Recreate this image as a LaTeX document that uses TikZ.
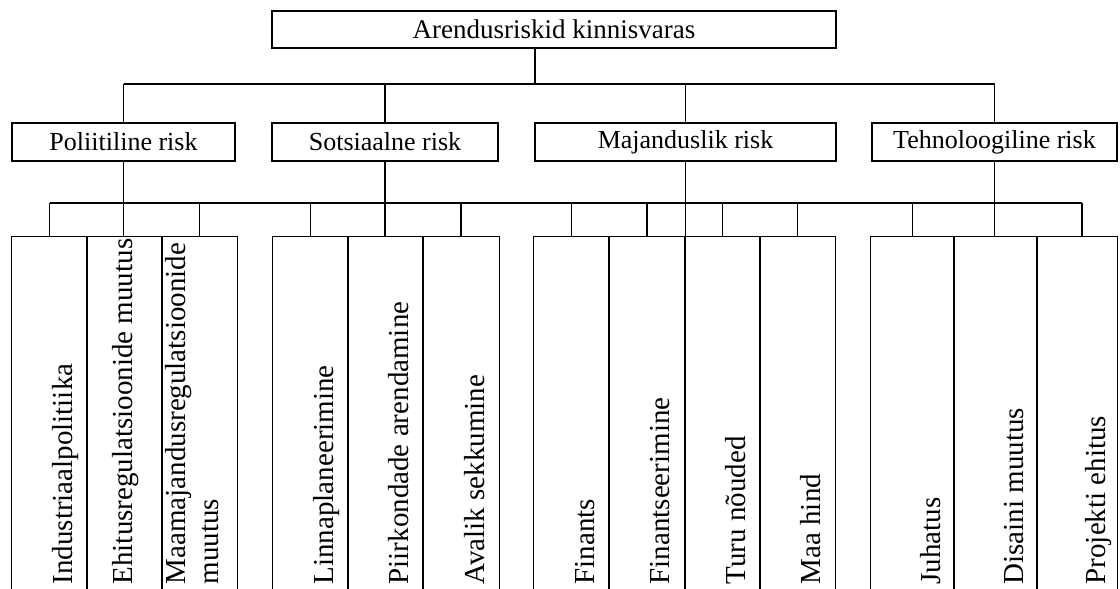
\documentclass[tikz,border=0pt]{standalone}
\usepackage{fontspec}
\setmainfont{Liberation Serif}
\begin{document}
\begin{tikzpicture}[x=0.5pt,y=-0.5pt,line width=0.7pt,
  topbox/.style={draw,rectangle,inner sep=0pt,minimum height=18.5pt,font=\fontsize{13.5pt}{16pt}\selectfont},
  midbox/.style={draw,rectangle,inner sep=0pt,minimum height=19pt,font=\fontsize{13pt}{15.5pt}\selectfont},
  leafcell/.style={draw=none,rectangle,inner sep=0pt,minimum height=176pt,minimum width=#1},
  leaftext/.style={rotate=90,anchor=base west,inner sep=0pt,align=left,font=\fontsize{14.5pt}{16.5pt}\selectfont}]
\useasboundingbox (0,0) rectangle (1120,589);
% top
\node[topbox,minimum width=282pt] (top) at (554,29.5) {Arendusriskid kinnisvaras};
% level 2
\node[midbox,minimum width=111.5pt] (P) at (123.5,142) {Poliitiline risk};
\node[midbox,minimum width=113pt] (S) at (385,142) {Sotsiaalne risk};
\node[midbox,minimum width=150.5pt] (M) at (685.5,142) {Majanduslik risk};
\node[midbox,minimum width=122.5pt] (T) at (994.5,142) {Tehnoloogiline risk};
% leaf cells
\node[leafcell=37.5pt] (l11) at (49.5,413) {};
\node[leafcell=37.5pt] (l12) at (124.5,413) {};
\node[leafcell=37.5pt] (l13) at (199.5,413) {};
\node[leafcell=37.5pt] (l21) at (310.5,413) {};
\node[leafcell=37.5pt] (l22) at (385.5,413) {};
\node[leafcell=38pt] (l23) at (461,413) {};
\node[leafcell=37.5pt] (l31) at (571.5,413) {};
\node[leafcell=38pt] (l32) at (647,413) {};
\node[leafcell=37.5pt] (l33) at (722.5,413) {};
\node[leafcell=37.5pt] (l34) at (797.5,413) {};
\node[leafcell=41.5pt] (l41) at (912.5,413) {};
\node[leafcell=41.5pt] (l42) at (995.5,413) {};
\node[leafcell=40pt] (l43) at (1077,413) {};
\foreach \c in {l11,l12,l13,l21,l22,l23,l31,l32,l33,l34,l41,l42,l43}
  \draw (\c.south west) -- (\c.north west) -- (\c.north east) -- (\c.south east);
% leaf texts
\node[leaftext] (t11) at (72,585) {Industriaalpolitiika};
\node[leaftext] (t12) at (132,585) {Ehitusregulatsioonide muutus};
\node[leaftext] (t13) at (218,585) {Maamajandusregulatsioonide\\muutus};
\node[leaftext] (t21) at (333,585) {Linnaplaneerimine};
\node[leaftext] (t22) at (408,585) {Piirkondade arendamine};
\node[leaftext] (t23) at (484,585) {Avalik sekkumine};
\node[leaftext] (t31) at (594,585) {Finants};
\node[leaftext] (t32) at (669,585) {Finantseerimine};
\node[leaftext] (t33) at (745,585) {Turu nõuded};
\node[leaftext] (t34) at (820,585) {Maa hind};
\node[leaftext] (t41) at (940,585) {Juhatus};
\node[leaftext] (t42) at (1023,585) {Disaini muutus};
\node[leaftext] (t43) at (1105,585) {Projekti ehitus};
% connectors top -> level 2
\coordinate (j0) at (535,84);
\coordinate (b1L) at (123.5,84);
\coordinate (b1R) at (994.5,84);
\draw (top.south -| j0) -- (j0);
\draw (b1L) -- (b1R);
\foreach \n in {P,S,M,T} \draw (\n.north |- j0) -- (\n.north);
% level 2 -> leaves
\coordinate (busL) at (49.5,203);
\coordinate (busR) at (1082,203);
\draw (busL) -- (busR);
\draw (P.south) -- (P.south |- l11.north);
\draw (S.south) -- (S.south |- l21.north);
\draw (M.south) -- (M.south |- l31.north);
\draw (T.south) -- (T.south |- l41.north);
\foreach \c in {l11,l13,l21,l23,l31,l32,l33,l34,l41}
  \draw (\c.north |- busL) -- (\c.north);
\draw (busR) -- (busR |- l43.north);
\end{tikzpicture}
\end{document}
